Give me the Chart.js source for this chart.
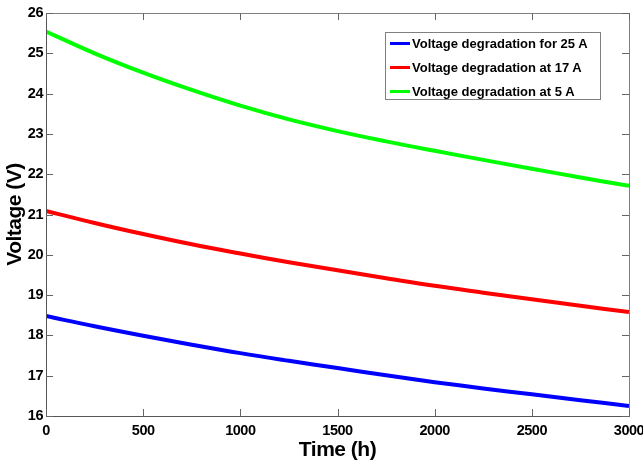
<!DOCTYPE html>
<html lang="en">
<head>
  <meta charset="utf-8">
  <title>Voltage degradation</title>
  <script src="https://cdn.jsdelivr.net/npm/chart.js@4.4.1/dist/chart.umd.min.js"></script>
  <style>
    html, body { margin: 0; padding: 0; background: #fff; }
    #wrap { position: relative; width: 643px; height: 463px; overflow: hidden; }
    .legend-box {
      position: absolute; left: 385px; top: 32px; width: 214px; height: 66px;
      border: 1px solid #808080; background: #fff;
      font: bold 13px "Liberation Sans", Arial, sans-serif; color: #000;
    }
    .legend-box .row { position: absolute; left: 4px; height: 20px; line-height: 20px; white-space: nowrap; }
    .legend-box .row i { display: inline-block; width: 20px; height: 3px; vertical-align: middle; margin-right: 2px; margin-top: -2px; }
  </style>
</head>
<body>
  <div id="wrap">
    <canvas id="volt-chart" width="643" height="463"></canvas>
    <!-- 범례 -->
    <div class="legend-box" id="legend"></div>
  </div>
<script>
  const hours = [0, 250, 500, 750, 1000, 1250, 1500, 1750, 2000, 2250, 2500, 2750, 3000];
  const volt25A = [18.48, 18.225, 17.99, 17.77, 17.56, 17.37, 17.19, 17.012, 16.84, 16.685, 16.537, 16.392, 16.25];
  const volt17A = [21.09, 20.79, 20.515, 20.26, 20.03, 19.815, 19.615, 19.42, 19.23, 19.06, 18.895, 18.735, 18.58];
  const volt5A = [25.54, 25.00, 24.52, 24.09, 23.70, 23.36, 23.07, 22.815, 22.58, 22.355, 22.135, 21.92, 21.71];
  const xTicks = [0, 500, 1000, 1500, 2000, 2500, 3000];
  const yTicks = [16, 17, 18, 19, 20, 21, 22, 23, 24, 25, 26];

  const seriesNames = ['Voltage degradation for 25 A', 'Voltage degradation at 17 A', 'Voltage degradation at 5 A'];
  const seriesColors = ['#0000ff', '#ff0000', '#00ff00'];
  const seriesValues = [volt25A, volt17A, volt5A];

  const toPoints = (vals) => vals.map((v, i) => ({ x: hours[i], y: v }));

  // 글자 간격 약간 좁게 (원본 폰트가 좁음)
  const tightText = {
    id: 'tightText',
    beforeDraw(chart) { chart.ctx.letterSpacing = '-0.5px'; },
    afterDraw(chart) { chart.ctx.letterSpacing = '0px'; }
  };

  // 안쪽 눈금 + 박스
  const boxTicks = {
    id: 'boxTicks',
    afterDraw(chart) {
      const { ctx, chartArea: a, scales } = chart;
      ctx.save();
      ctx.lineWidth = 1;
      ctx.strokeStyle = '#808080';
      ctx.strokeRect(a.left + 0.5, a.top + 0.5, a.right - a.left, a.bottom - a.top);
      ctx.strokeStyle = '#555';
      ctx.beginPath();
      ctx.moveTo(a.left + 0.5, a.top); ctx.lineTo(a.left + 0.5, a.bottom + 0.5);
      ctx.lineTo(a.right + 0.5, a.bottom + 0.5);
      ctx.stroke();
      ctx.strokeStyle = '#666';
      ctx.beginPath();
      xTicks.forEach(t => {
        const px = Math.round(scales.x.getPixelForValue(t)) + 0.5;
        ctx.moveTo(px, a.bottom); ctx.lineTo(px, a.bottom - 7);
        ctx.moveTo(px, a.top); ctx.lineTo(px, a.top + 7);
      });
      yTicks.forEach(t => {
        const py = Math.round(scales.y.getPixelForValue(t)) + 0.5;
        ctx.moveTo(a.left, py); ctx.lineTo(a.left + 7, py);
        ctx.moveTo(a.right, py); ctx.lineTo(a.right - 7, py);
      });
      ctx.stroke();
      ctx.restore();
    }
  };

  const tickFont = { family: '"Liberation Sans", Arial, sans-serif', size: 14.5, weight: 'bold' };
  const titleFont = { family: '"Liberation Sans", Arial, sans-serif', size: 21, weight: 'bold' };

  const chartVolt = new Chart(document.getElementById('volt-chart').getContext('2d'), {
    type: 'line',
    data: {
      datasets: seriesValues.map((vals, i) => ({
        label: seriesNames[i],
        data: toPoints(vals),
        borderColor: seriesColors[i],
        backgroundColor: seriesColors[i],
        borderWidth: 4,
        pointRadius: 0,
        tension: 0.4,
      }))
    },
    options: {
      responsive: false,
      animation: false,
      layout: { padding: { left: 0, top: 13, right: 14, bottom: 0 } },
      plugins: {
        legend: { display: false },
        tooltip: { enabled: false },
      },
      scales: {
        x: {
          type: 'linear',
          min: 0,
          max: 3000,
          grid: { display: false, drawTicks: false, tickLength: 0 },
          border: { display: false },
          afterFit(scale) {
            scale.height = 47;
            scale.paddingLeft = 0;
            scale.paddingRight = 0;
          },
          afterBuildTicks(scale) { scale.ticks = xTicks.map(v => ({ value: v })); },
          ticks: { color: '#000', font: tickFont, padding: 6, maxRotation: 0, callback: v => String(v) },
          title: {
            display: true,
            text: 'Time (h)',
            color: '#000',
            font: titleFont,
            padding: { top: 0, bottom: 0 },
          },
        },
        y: {
          min: 16,
          max: 26,
          grid: { display: false, drawTicks: false, tickLength: 0 },
          border: { display: false },
          afterFit(scale) {
            scale.width = 46;
            scale.paddingTop = 0;
            scale.paddingBottom = 0;
          },
          afterBuildTicks(scale) { scale.ticks = yTicks.map(v => ({ value: v })); },
          ticks: { color: '#000', font: tickFont, padding: 3, callback: v => String(v) },
          title: {
            display: true,
            text: 'Voltage (V)',
            color: '#000',
            font: titleFont,
            padding: { top: 3, bottom: 0 },
          },
        }
      }
    },
    plugins: [tightText, boxTicks]
  });

  // 범례 (HTML)
  const legendEl = document.getElementById('legend');
  seriesNames.forEach((name, i) => {
    const row = document.createElement('div');
    row.className = 'row';
    row.style.top = (1 + i * 24) + 'px';
    row.innerHTML = '<i style="background:' + seriesColors[i] + '"></i>' + name;
    legendEl.appendChild(row);
  });
</script>
</body>
</html>
